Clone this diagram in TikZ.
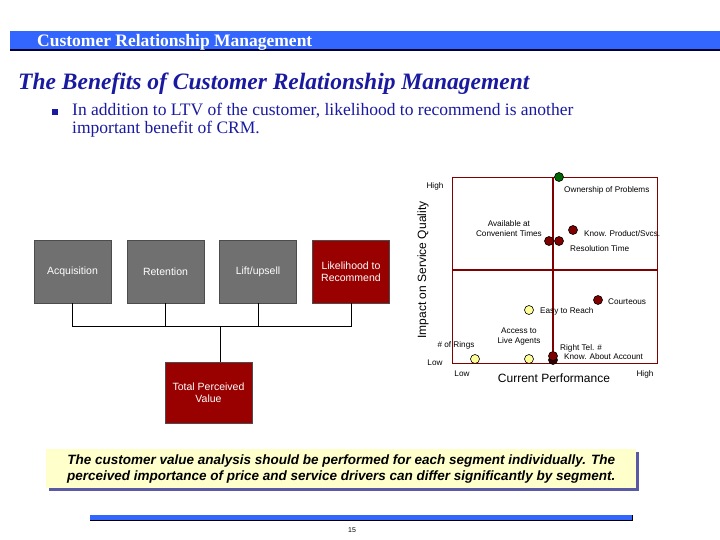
\documentclass[tikz,border=0pt]{standalone}
\usepackage{fontspec}
\setmainfont{Liberation Serif}
\newfontfamily\ars{Liberation Sans}
\definecolor{hblue}{HTML}{3366FF}
\definecolor{navy}{HTML}{1A1AA0}
\definecolor{dred}{HTML}{990000}
\definecolor{fr}{HTML}{800000}
\definecolor{gbox}{HTML}{707070}
\definecolor{yel}{HTML}{FFFF99}
\definecolor{cal}{HTML}{FFFFCC}
\begin{document}
\begin{tikzpicture}[x=1pt,y=-1pt,
  box/.style={draw=black!70,minimum width=77pt,minimum height=63pt,text=white,font=\ars\fontsize{10.5}{12.5}\selectfont,align=center,inner sep=1pt},
  lab/.style={font=\ars\fontsize{8.2}{10}\selectfont,inner sep=0pt,align=center},
  dot/.style={circle,draw=black,line width=0.6pt,minimum size=9pt,inner sep=0pt},
  conn/.style={draw=black,line width=0.6pt}]
\useasboundingbox (0,0) rectangle (720,540);
% header
\fill[hblue] (10,31) rectangle (720,50);
\draw[black!80!blue,line width=1.2pt] (10,50) -- (720,50);
\node[anchor=west,text=white,font=\bfseries\fontsize{17.5}{20}\selectfont,inner sep=0pt] (hdr) at (37,42) {Customer Relationship Management};
\node[anchor=west,text=navy,font=\bfseries\itshape\fontsize{23.5}{26}\selectfont,inner sep=0pt] (ttl) at (18,84) {The Benefits of Customer Relationship Management};
\fill[navy] (52,109) rectangle (58,115);
\node[anchor=north west,text=navy,align=left,font=\fontsize{17.5}{18}\selectfont,inner sep=0pt] (bul) at (72,103) {In addition to LTV of the customer, likelihood to recommend is another\\important benefit of CRM.};
% boxes
\node[box,fill=gbox] (acq) at (72.5,271.5) {Acquisition};
\node[box,fill=gbox] (ret) at (165.5,271.5) {Retention};
\node[box,fill=gbox] (lift) at (258,271.5) {Lift/upsell};
\node[box,fill=dred] (lik) at (351,271.5) {Likelihood to\\Recommend};
\node[box,fill=dred,minimum width=87pt,minimum height=61pt] (tpv) at (208.5,392.5) {Total Perceived\\Value};
\coordinate (j) at (220,326);
\draw[conn] (acq.south) |- (j) (ret.south) |- (j) (lift.south) |- (j) (lik.south) |- (j);
\draw[conn] (j) -- (j |- tpv.north);
% chart
\draw[fr,line width=0.8pt] (452,177) rectangle (657,363);
\draw[fr,line width=1.5pt] (553,177) -- (553,363);
\draw[fr,line width=1.5pt] (452,270) -- (657,270);
\node[lab] (hi) at (435,186) {High};
\node[lab] (lo) at (435,363) {Low};
\node[lab,rotate=90,font=\ars\fontsize{12}{13}\selectfont] (yax) at (423,270) {Impact on Service Quality};
\node[lab] (xlo) at (462,374) {Low};
\node[lab,font=\ars\fontsize{12}{13}\selectfont] (xax) at (554,378) {Current Performance};
\node[lab] (xhi) at (645,374) {High};
\node[dot,fill=green!40!black] (own) at (559,177) {};
\node[lab,anchor=west] (ownl) at (564,190) {Ownership of Problems};
\node[dot,fill=fr] (kp) at (573,230) {};
\node[lab,anchor=west] (kpl) at (584,234) {Know. Product/Svcs.};
\node[dot,fill=fr] (av) at (549,241) {};
\node[dot,fill=fr] (rt) at (559,241) {};
\node[lab,anchor=east] (avl) at (542,229) {Available at\\Convenient Times};
\node[lab,anchor=west] (rtl) at (570,249) {Resolution Time};
\node[dot,fill=fr] (cour) at (598,300) {};
\node[lab,anchor=west] (courl) at (608,302) {Courteous};
\node[dot,fill=yel] (easy) at (529,310) {};
\node[lab,anchor=west] (easyl) at (540,311) {Easy to Reach};
\node[dot,fill=yel] (rings) at (475,359) {};
\node[lab] (ringsl) at (456,345) {\# of Rings};
\node[dot,fill=yel] (acc) at (529,359) {};
\node[lab] (accl) at (519,337) {Access to\\Live Agents};
\node[dot,fill=black!80!red] (ka) at (553,360) {};
\node[dot,fill=fr] (tel) at (553,356) {};
\node[lab,anchor=west] (tell) at (560,348) {Right Tel. \#};
\node[lab,anchor=west] (kal) at (564,357) {Know. About Account};
% callout
\fill[blue!30!gray] (49,452) rectangle (639,491);
\node[fill=cal,minimum width=590pt,minimum height=39pt,anchor=north west,inner sep=0pt,align=center,font=\ars\bfseries\itshape\fontsize{13.5}{16}\selectfont] (call) at (46,449) {The customer value analysis should be performed for each segment individually. The\\perceived importance of price and service drivers can differ significantly by segment.};
% footer
\fill[hblue] (90,515) rectangle (632,520);
\draw[black,line width=0.8pt] (90,520.5) -- (632,520.5) -- (632,515);
\node[lab,font=\ars\fontsize{7}{8}\selectfont] (pg) at (352,530) {15};
\end{tikzpicture}
\end{document}
